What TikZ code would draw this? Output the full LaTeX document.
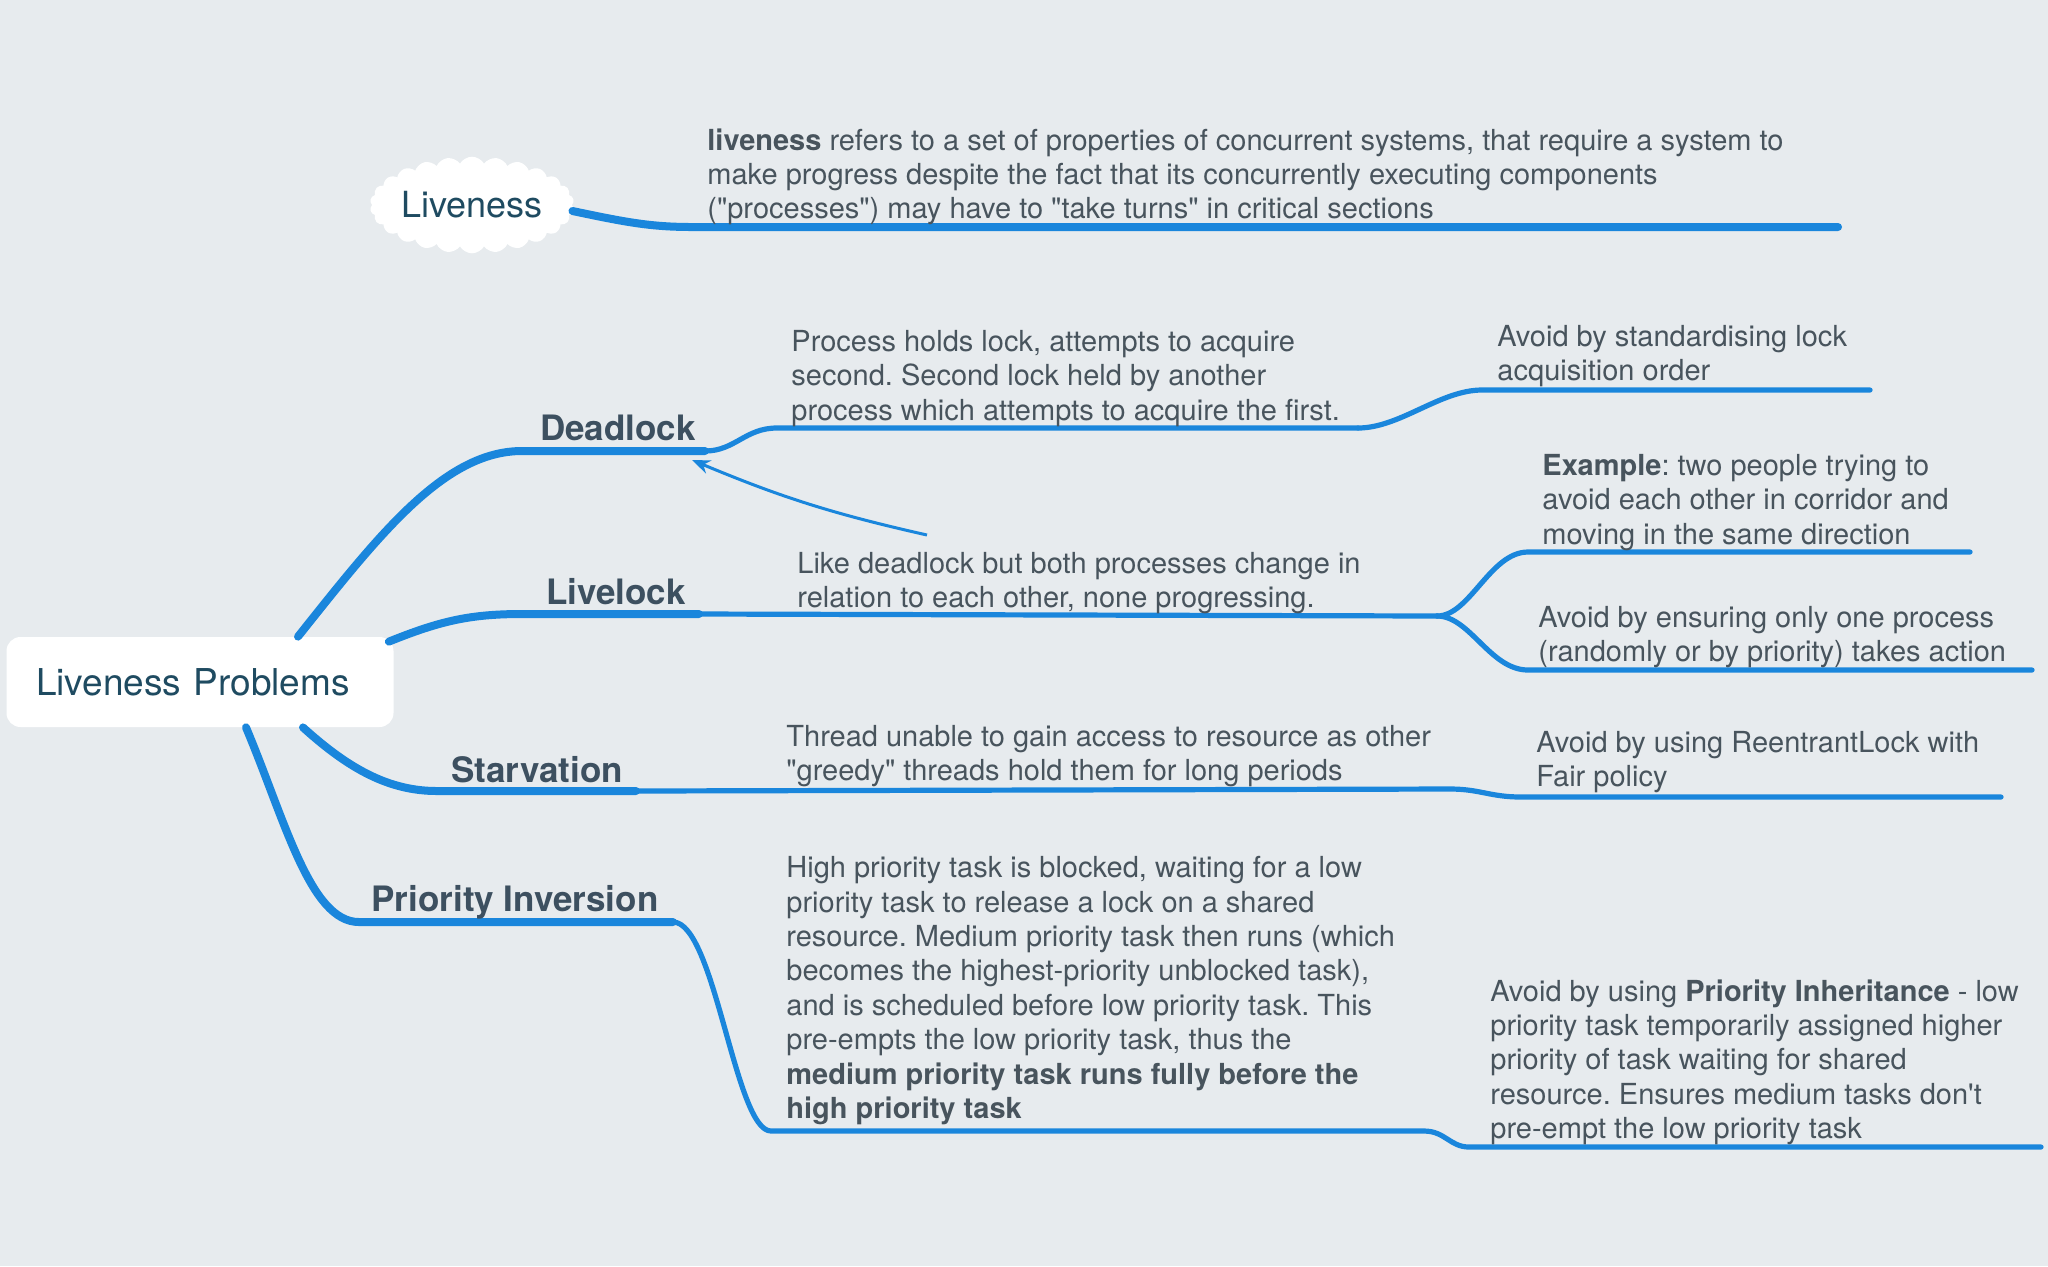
\documentclass[tikz,border=0pt]{standalone}
\usepackage{fontspec}
\setmainfont{TeX Gyre Heros}[Ligatures=TeXOff]
\usepackage{xcolor}
\usetikzlibrary{shapes,shapes.symbols}
\usetikzlibrary{arrows.meta}
\usetikzlibrary{positioning}
\frenchspacing

\definecolor{bgcol}{HTML}{E7EBEE}
\definecolor{mapblue}{HTML}{1A86DC}
\definecolor{txtcol}{HTML}{48545D}
\definecolor{labcol}{HTML}{3D5060}
\definecolor{rootcol}{HTML}{1F4B61}

\begin{document}
\begin{tikzpicture}[x=0.5pt,y=-0.5pt]
\tikzset{mainbranch/.style={draw=mapblue,line width=4pt,line cap=round},
subbranch/.style={draw=mapblue,line width=2.6pt,line cap=round},
notetext/.style={anchor=north west,inner sep=0pt,align=left,text=txtcol,font=\fontsize{14.5}{17.2}\selectfont},
topiclabel/.style={anchor=base,inner sep=0pt,text=labcol,font=\fontsize{17.5}{21}\selectfont\bfseries}}
\useasboundingbox[fill=bgcol] (0,0) rectangle (2048,1266);
\node[rectangle,rounded corners=7pt,fill=white,minimum height=45pt,inner xsep=14.8pt,text width=163.9pt,align=left,text=rootcol,font=\fontsize{18.5}{22}\selectfont](root) at (200,682){Liveness Problems};
\node[cloud,cloud puffs=26,cloud puff arc=120,aspect=2.4,fill=white,minimum width=100pt,minimum height=41pt,inner sep=0pt,text=rootcol,font=\fontsize{18}{22}\selectfont](liv) at (472,205){Liveness};
\coordinate (livend) at (1838,227);
\coordinate (dl) at (705,451);
\coordinate (dlnote) at (1358,428);
\coordinate (dlfix) at (1870,390);
\coordinate (ll) at (699,614);
\coordinate (llnote) at (1437,616);
\coordinate (llex) at (1970,552);
\coordinate (llfix) at (2032,670);
\coordinate (st) at (636,791);
\coordinate (stnote) at (1450,789);
\coordinate (stfix) at (2001,797);
\coordinate (pi) at (673,922);
\coordinate (pinote) at (1424,1131);
\coordinate (pifix) at (2041,1147);
\coordinate (arrtail) at (927,535);
\coordinate (arrhead) at (692,460);
% branches
\draw[mainbranch] ([yshift=-3pt]liv.east) .. controls (625,222) and (650,227) .. (692,227) -- (livend);
\draw[mainbranch] ([xshift=49pt]root.north) .. controls (379,535) and (444,451) .. (522,451) -- (dl);
\draw[subbranch] (dl) .. controls (735,451) and (745,428) .. (777,428) -- (dlnote);
\draw[subbranch] (dlnote) .. controls (1400,428) and (1440,390) .. (1482,390) -- (dlfix);
\draw[mainbranch] ([xshift=-2.5pt,yshift=-2.5pt]root.north east) .. controls (440,621) and (470,614) .. (522,614) -- (ll);
\draw[subbranch] (ll) -- (llnote);
\draw[subbranch] (llnote) .. controls (1470,616) and (1490,552) .. (1528,552) -- (llex);
\draw[subbranch] (llnote) .. controls (1470,616) and (1490,670) .. (1528,670) -- (llfix);
\draw[mainbranch] ([xshift=51.5pt]root.south) .. controls (350,770) and (390,791) .. (437,791) -- (st);
\draw[subbranch] (st) -- (stnote) .. controls (1480,789) and (1490,797) .. (1521,797) -- (stfix);
\draw[mainbranch] ([xshift=23pt]root.south) .. controls (285,820) and (310,922) .. (359,922) -- (pi);
\draw[subbranch] (pi) .. controls (715,922) and (735,1131) .. (771,1131) -- (pinote) .. controls (1445,1131) and (1450,1147) .. (1469,1147) -- (pifix);
\draw[mapblue,line width=1.5pt,-{Stealth[length=9pt,width=7pt]}] (arrtail) to[bend left=5] (arrhead);
% labels
\node[topiclabel](dlabel) at (618,440){Deadlock};
\node[topiclabel](llabel) at (616,604){Livelock};
\node[topiclabel](slabel) at (537,782){Starvation};
\node[topiclabel](plabel) at (515,911){Priority Inversion};
% notes
\node[notetext](livnote) at (707,128){\textbf{liveness} refers to a set of properties of concurrent systems, that require a system to\\make progress despite the fact that its concurrently executing components\\("processes") may have to "take turns" in critical sections};
\node[notetext](dlnotetxt) at (791,330){Process holds lock, attempts to acquire\\second. Second lock held by another\\process which attempts to acquire the first.};
\node[notetext](dlfixtxt) at (1497,325){Avoid by standardising lock\\acquisition order};
\node[notetext](llextxt) at (1542,454){\textbf{Example}: two people trying to\\avoid each other in corridor and\\moving in the same direction};
\node[notetext](llnotetxt) at (797,552){Like deadlock but both processes change in\\relation to each other, none progressing.};
\node[notetext](llfixtxt) at (1538,606){Avoid by ensuring only one process\\(randomly or by priority) takes action};
\node[notetext](stnotetxt) at (786,725){Thread unable to gain access to resource as other\\"greedy" threads hold them for long periods};
\node[notetext](stfixtxt) at (1536,731){Avoid by using ReentrantLock with\\Fair policy};
\node[notetext](pinotetxt) at (786,856){High priority task is blocked, waiting for a low\\priority task to release a lock on a shared\\resource. Medium priority task then runs (which\\becomes the highest-priority unblocked task),\\and is scheduled before low priority task. This\\pre-empts the low priority task, thus the\\\textbf{medium priority task runs fully before the}\\\textbf{high priority task}};
\node[notetext](pifixtxt) at (1490,979){Avoid by using \textbf{Priority Inheritance} - low\\priority task temporarily assigned higher\\priority of task waiting for shared\\resource. Ensures medium tasks don't\\pre-empt the low priority task};
\end{tikzpicture}
\end{document}
